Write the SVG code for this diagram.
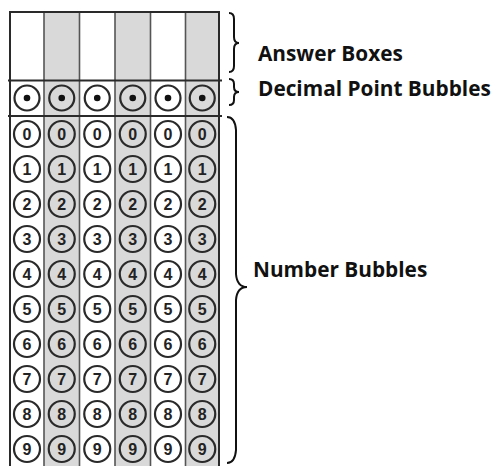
<svg xmlns="http://www.w3.org/2000/svg" width="498" height="466" viewBox="0 0 498 466">
<defs>
<style>
.shade{fill:#d9d9d9}
.grid{stroke:#2a2a2a;stroke-width:2;fill:none}
.div{stroke:#555;stroke-width:1.6}
.bub{fill:none;stroke:#2a2a2a;stroke-width:2.2}
.dot{fill:#111}
.dig{font-family:"Liberation Sans",Arial,sans-serif;font-weight:700;font-size:16px;fill:#222;text-anchor:middle}
.lab{font-family:"Open Sans","DejaVu Sans",sans-serif;font-weight:700;font-size:20.8px;fill:#111}
.brace{fill:none;stroke:#111;stroke-width:2}
</style>
</defs>
<rect width="498" height="466" fill="#fff"/>
<g id="grid">
<rect class="shade" x="44" y="12" width="35.5" height="454"/>
<rect class="shade" x="115" y="12" width="35.5" height="454"/>
<rect class="shade" x="185.5" y="12" width="33.5" height="454"/>
<g class="div">
<line x1="44" y1="12" x2="44" y2="466"/>
<line x1="79.5" y1="12" x2="79.5" y2="466"/>
<line x1="115" y1="12" x2="115" y2="466"/>
<line x1="150.5" y1="12" x2="150.5" y2="466"/>
<line x1="185.5" y1="12" x2="185.5" y2="466"/>
</g>
<g class="grid">
<line x1="10" y1="12" x2="219" y2="12"/>
<line x1="10" y1="11" x2="10" y2="466"/>
<line x1="219" y1="11" x2="219" y2="466"/>
<line x1="8" y1="80.5" x2="222" y2="80.5"/>
<line x1="8" y1="116" x2="222" y2="116"/>
</g>
</g>
<g id="decimal-point-bubbles">
<circle class="bub" cx="27" cy="98" r="12.5"/><circle class="dot" cx="27" cy="98" r="3.3"/>
<circle class="bub" cx="61.75" cy="98" r="12.5"/><circle class="dot" cx="61.75" cy="98" r="3.3"/>
<circle class="bub" cx="97.25" cy="98" r="12.5"/><circle class="dot" cx="97.25" cy="98" r="3.3"/>
<circle class="bub" cx="132.75" cy="98" r="12.5"/><circle class="dot" cx="132.75" cy="98" r="3.3"/>
<circle class="bub" cx="168" cy="98" r="12.5"/><circle class="dot" cx="168" cy="98" r="3.3"/>
<circle class="bub" cx="202.25" cy="98" r="12.5"/><circle class="dot" cx="202.25" cy="98" r="3.3"/>
</g>
<g id="number-bubbles">
<g id="col1">
<circle class="bub" cx="27" cy="134" r="13"/><text class="dig" x="27" y="140">0</text>
<circle class="bub" cx="27" cy="169" r="13"/><text class="dig" x="27" y="175">1</text>
<circle class="bub" cx="27" cy="204" r="13"/><text class="dig" x="27" y="210">2</text>
<circle class="bub" cx="27" cy="239" r="13"/><text class="dig" x="27" y="245">3</text>
<circle class="bub" cx="27" cy="274" r="13"/><text class="dig" x="27" y="280">4</text>
<circle class="bub" cx="27" cy="309" r="13"/><text class="dig" x="27" y="315">5</text>
<circle class="bub" cx="27" cy="344" r="13"/><text class="dig" x="27" y="350">6</text>
<circle class="bub" cx="27" cy="379" r="13"/><text class="dig" x="27" y="385">7</text>
<circle class="bub" cx="27" cy="414" r="13"/><text class="dig" x="27" y="420">8</text>
<circle class="bub" cx="27" cy="449" r="13"/><text class="dig" x="27" y="455">9</text>
</g>
<g id="col2">
<circle class="bub" cx="61.75" cy="134" r="13"/><text class="dig" x="61.75" y="140">0</text>
<circle class="bub" cx="61.75" cy="169" r="13"/><text class="dig" x="61.75" y="175">1</text>
<circle class="bub" cx="61.75" cy="204" r="13"/><text class="dig" x="61.75" y="210">2</text>
<circle class="bub" cx="61.75" cy="239" r="13"/><text class="dig" x="61.75" y="245">3</text>
<circle class="bub" cx="61.75" cy="274" r="13"/><text class="dig" x="61.75" y="280">4</text>
<circle class="bub" cx="61.75" cy="309" r="13"/><text class="dig" x="61.75" y="315">5</text>
<circle class="bub" cx="61.75" cy="344" r="13"/><text class="dig" x="61.75" y="350">6</text>
<circle class="bub" cx="61.75" cy="379" r="13"/><text class="dig" x="61.75" y="385">7</text>
<circle class="bub" cx="61.75" cy="414" r="13"/><text class="dig" x="61.75" y="420">8</text>
<circle class="bub" cx="61.75" cy="449" r="13"/><text class="dig" x="61.75" y="455">9</text>
</g>
<g id="col3">
<circle class="bub" cx="97.25" cy="134" r="13"/><text class="dig" x="97.25" y="140">0</text>
<circle class="bub" cx="97.25" cy="169" r="13"/><text class="dig" x="97.25" y="175">1</text>
<circle class="bub" cx="97.25" cy="204" r="13"/><text class="dig" x="97.25" y="210">2</text>
<circle class="bub" cx="97.25" cy="239" r="13"/><text class="dig" x="97.25" y="245">3</text>
<circle class="bub" cx="97.25" cy="274" r="13"/><text class="dig" x="97.25" y="280">4</text>
<circle class="bub" cx="97.25" cy="309" r="13"/><text class="dig" x="97.25" y="315">5</text>
<circle class="bub" cx="97.25" cy="344" r="13"/><text class="dig" x="97.25" y="350">6</text>
<circle class="bub" cx="97.25" cy="379" r="13"/><text class="dig" x="97.25" y="385">7</text>
<circle class="bub" cx="97.25" cy="414" r="13"/><text class="dig" x="97.25" y="420">8</text>
<circle class="bub" cx="97.25" cy="449" r="13"/><text class="dig" x="97.25" y="455">9</text>
</g>
<g id="col4">
<circle class="bub" cx="132.75" cy="134" r="13"/><text class="dig" x="132.75" y="140">0</text>
<circle class="bub" cx="132.75" cy="169" r="13"/><text class="dig" x="132.75" y="175">1</text>
<circle class="bub" cx="132.75" cy="204" r="13"/><text class="dig" x="132.75" y="210">2</text>
<circle class="bub" cx="132.75" cy="239" r="13"/><text class="dig" x="132.75" y="245">3</text>
<circle class="bub" cx="132.75" cy="274" r="13"/><text class="dig" x="132.75" y="280">4</text>
<circle class="bub" cx="132.75" cy="309" r="13"/><text class="dig" x="132.75" y="315">5</text>
<circle class="bub" cx="132.75" cy="344" r="13"/><text class="dig" x="132.75" y="350">6</text>
<circle class="bub" cx="132.75" cy="379" r="13"/><text class="dig" x="132.75" y="385">7</text>
<circle class="bub" cx="132.75" cy="414" r="13"/><text class="dig" x="132.75" y="420">8</text>
<circle class="bub" cx="132.75" cy="449" r="13"/><text class="dig" x="132.75" y="455">9</text>
</g>
<g id="col5">
<circle class="bub" cx="168" cy="134" r="13"/><text class="dig" x="168" y="140">0</text>
<circle class="bub" cx="168" cy="169" r="13"/><text class="dig" x="168" y="175">1</text>
<circle class="bub" cx="168" cy="204" r="13"/><text class="dig" x="168" y="210">2</text>
<circle class="bub" cx="168" cy="239" r="13"/><text class="dig" x="168" y="245">3</text>
<circle class="bub" cx="168" cy="274" r="13"/><text class="dig" x="168" y="280">4</text>
<circle class="bub" cx="168" cy="309" r="13"/><text class="dig" x="168" y="315">5</text>
<circle class="bub" cx="168" cy="344" r="13"/><text class="dig" x="168" y="350">6</text>
<circle class="bub" cx="168" cy="379" r="13"/><text class="dig" x="168" y="385">7</text>
<circle class="bub" cx="168" cy="414" r="13"/><text class="dig" x="168" y="420">8</text>
<circle class="bub" cx="168" cy="449" r="13"/><text class="dig" x="168" y="455">9</text>
</g>
<g id="col6">
<circle class="bub" cx="202.25" cy="134" r="13"/><text class="dig" x="202.25" y="140">0</text>
<circle class="bub" cx="202.25" cy="169" r="13"/><text class="dig" x="202.25" y="175">1</text>
<circle class="bub" cx="202.25" cy="204" r="13"/><text class="dig" x="202.25" y="210">2</text>
<circle class="bub" cx="202.25" cy="239" r="13"/><text class="dig" x="202.25" y="245">3</text>
<circle class="bub" cx="202.25" cy="274" r="13"/><text class="dig" x="202.25" y="280">4</text>
<circle class="bub" cx="202.25" cy="309" r="13"/><text class="dig" x="202.25" y="315">5</text>
<circle class="bub" cx="202.25" cy="344" r="13"/><text class="dig" x="202.25" y="350">6</text>
<circle class="bub" cx="202.25" cy="379" r="13"/><text class="dig" x="202.25" y="385">7</text>
<circle class="bub" cx="202.25" cy="414" r="13"/><text class="dig" x="202.25" y="420">8</text>
<circle class="bub" cx="202.25" cy="449" r="13"/><text class="dig" x="202.25" y="455">9</text>
</g>
</g>
<g id="label-answer-boxes">
<path class="brace" d="M229,13 Q234,13 234,19 L234,37 Q234,43 239,43 Q234,43 234,49 L234,66 Q234,72 229,72"/>
<text class="lab" x="258" y="61">Answer Boxes</text>
</g>
<g id="label-decimal">
<path class="brace" d="M229,79 Q234,79 234,84 L234,87 Q234,92 239,92 Q234,92 234,97 L234,100 Q234,105 229,105"/>
<text class="lab" x="258" y="96">Decimal Point Bubbles</text>
</g>
<g id="label-number">
<path class="brace" d="M227,117 Q235,117 236,130 L236,274 Q237,287 247,287 Q237,287 236,300 L236,450 Q235,463 227,463"/>
<text class="lab" x="253" y="277">Number Bubbles</text>
</g>
</svg>
